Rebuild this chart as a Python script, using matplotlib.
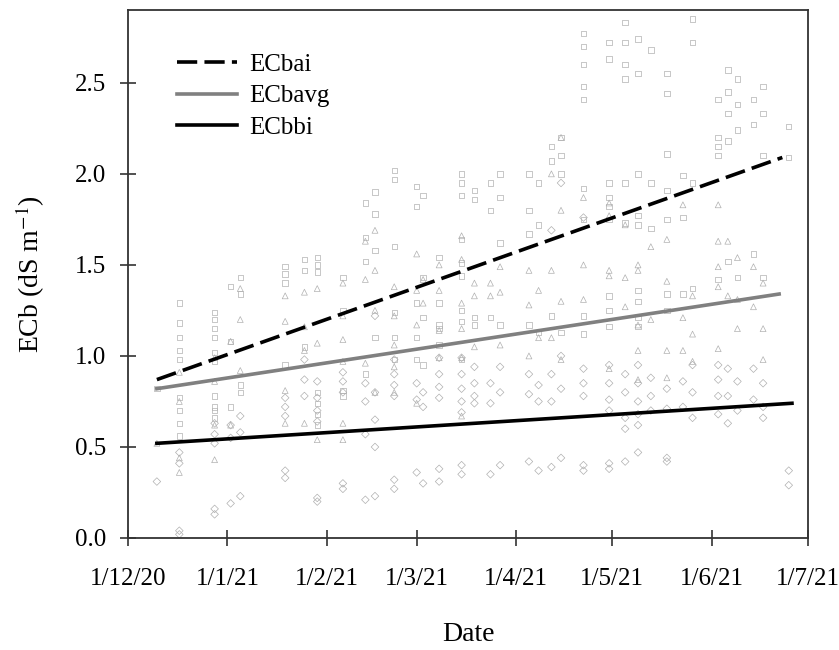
import numpy as np
import pandas as pd
import matplotlib
matplotlib.use("Agg")
import matplotlib.pyplot as plt

plt.rcParams['font.family'] = ['Liberation Serif', 'DejaVu Serif']
plt.rcParams['mathtext.fontset'] = 'stix'

# ---------------- data ----------------
sample_dates = ['2020-12-10', '2020-12-17', '2020-12-28', '2021-01-02', '2021-01-05',
                '2021-01-19', '2021-01-25', '2021-01-29', '2021-02-06', '2021-02-13',
                '2021-02-16', '2021-02-22', '2021-03-01', '2021-03-03', '2021-03-08',
                '2021-03-15', '2021-03-19', '2021-03-24', '2021-03-27', '2021-04-05',
                '2021-04-08', '2021-04-12', '2021-04-15', '2021-04-22', '2021-04-30',
                '2021-05-05', '2021-05-09', '2021-05-13', '2021-05-18', '2021-05-23',
                '2021-05-26', '2021-06-03', '2021-06-06', '2021-06-09', '2021-06-14',
                '2021-06-17', '2021-06-25']

ecbai_obs = [
    [0.82],
    [1.29, 1.18, 1.10, 1.03, 0.98, 0.77, 0.70, 0.63, 0.56],
    [1.24, 1.20, 1.15, 1.10, 1.02, 0.97, 0.78, 0.72, 0.70, 0.66],
    [1.38, 1.08, 0.72],
    [1.43, 1.34, 0.84, 0.80],
    [1.49, 1.45, 1.40, 0.95],
    [1.53, 1.47, 1.05],
    [1.54, 1.50, 1.46, 0.80, 0.74, 0.68, 0.62],
    [1.43, 1.25, 0.81, 0.78],
    [1.84, 1.65, 1.52, 0.90],
    [1.90, 1.78, 1.58, 1.10],
    [2.02, 1.97, 1.60, 1.24, 1.10, 0.98],
    [1.93, 1.82, 1.29, 1.10, 0.98],
    [1.88, 1.43, 1.21, 0.95],
    [1.54, 1.29, 1.17, 1.15, 1.06],
    [2.00, 1.95, 1.88, 1.64, 1.51, 1.44, 1.25, 1.19, 0.98],
    [1.91, 1.86, 1.21, 1.17],
    [1.95, 1.80, 1.21],
    [2.00, 1.87, 1.62, 1.17],
    [2.00, 1.80, 1.67, 1.17],
    [1.95, 1.72, 1.13],
    [2.15, 2.07, 1.22],
    [2.20, 2.10, 2.00, 1.13],
    [2.77, 2.70, 2.60, 2.48, 2.41, 1.92, 1.75, 1.22, 1.12],
    [2.72, 2.63, 1.95, 1.87, 1.82, 1.75, 1.33, 1.25, 1.16],
    [2.83, 2.72, 2.60, 2.52, 1.95, 1.73],
    [2.74, 2.55, 2.00, 1.77, 1.72, 1.36, 1.30, 1.21, 1.16],
    [2.68, 1.95, 1.70],
    [2.55, 2.44, 2.11, 1.91, 1.75, 1.34, 1.25],
    [1.99, 1.76, 1.34],
    [2.85, 2.72, 1.95, 1.37],
    [2.41, 2.20, 2.15, 2.10, 1.42],
    [2.57, 2.45, 2.33, 2.18, 1.52],
    [2.52, 2.38, 2.24, 1.43],
    [2.41, 2.27, 1.56],
    [2.48, 2.33, 2.10, 1.43],
    [2.26, 2.09],
]

ecbavg_obs = [
    [0.52],
    [0.91, 0.75, 0.44, 0.36],
    [0.99, 0.86, 0.62, 0.43],
    [1.08, 0.62],
    [1.37, 1.20, 0.92],
    [1.33, 1.19, 0.81, 0.63],
    [1.35, 1.16, 1.03, 0.63],
    [1.37, 1.07, 0.54],
    [1.40, 1.22, 1.09, 0.97, 0.63, 0.54],
    [1.63, 1.42, 0.96],
    [1.69, 1.47, 1.25, 0.80],
    [1.38, 1.22, 1.06, 0.94, 0.80],
    [1.56, 1.36, 1.17, 0.74],
    [1.42, 1.29],
    [1.50, 1.36, 1.14, 0.99],
    [1.66, 1.53, 1.29, 1.15, 0.99, 0.67],
    [1.40, 1.33, 1.05],
    [1.40, 1.33],
    [1.49, 1.35, 1.06],
    [1.47, 1.28, 1.00],
    [1.36, 1.10],
    [2.00, 1.47, 1.10],
    [2.20, 1.80, 1.30, 0.98],
    [1.87, 1.50, 1.31],
    [1.84, 1.77, 1.47, 1.44, 0.93],
    [1.72, 1.43, 1.27],
    [1.50, 1.47, 1.17, 1.03, 0.87],
    [1.60, 1.20],
    [1.64, 1.41, 1.03, 0.88],
    [1.83, 1.21, 1.03],
    [1.33, 1.12, 0.97],
    [1.83, 1.63, 1.49, 1.38, 1.04],
    [1.63, 1.33],
    [1.54, 1.31, 1.15],
    [1.49, 1.27],
    [1.40, 1.15, 0.98],
    [],
]

ecbbi_obs = [
    [0.31],
    [0.47, 0.41, 0.04, 0.02],
    [0.63, 0.57, 0.52, 0.16, 0.13],
    [0.62, 0.55, 0.19],
    [0.67, 0.58, 0.23],
    [0.77, 0.72, 0.67, 0.37, 0.33],
    [0.98, 0.87, 0.78],
    [0.86, 0.77, 0.70, 0.64, 0.22, 0.20],
    [0.91, 0.86, 0.80, 0.30, 0.27],
    [0.85, 0.75, 0.57, 0.21],
    [1.22, 0.80, 0.65, 0.50, 0.23],
    [0.98, 0.90, 0.84, 0.78, 0.32, 0.27],
    [0.85, 0.76, 0.36],
    [0.80, 0.72, 0.30],
    [0.99, 0.90, 0.83, 0.77, 0.38, 0.31],
    [0.99, 0.90, 0.82, 0.75, 0.69, 0.40, 0.35],
    [0.94, 0.85, 0.78, 0.74],
    [0.85, 0.74, 0.35],
    [0.94, 0.80, 0.40],
    [0.90, 0.79, 0.42],
    [0.84, 0.75, 0.37],
    [1.69, 0.90, 0.75, 0.39],
    [1.95, 1.00, 0.82, 0.44],
    [1.76, 0.93, 0.85, 0.78, 0.40, 0.37],
    [0.95, 0.85, 0.76, 0.70, 0.41, 0.38],
    [0.90, 0.80, 0.66, 0.60, 0.42],
    [0.95, 0.85, 0.75, 0.68, 0.62, 0.47],
    [0.88, 0.78, 0.70],
    [0.82, 0.71, 0.44, 0.42],
    [0.86, 0.72],
    [0.95, 0.80, 0.66],
    [0.95, 0.87, 0.78, 0.68],
    [0.93, 0.78, 0.63],
    [0.86, 0.70],
    [0.93, 0.76],
    [0.85, 0.72, 0.66],
    [0.37, 0.29],
]

# fitted trend lines (start / end)
ecbai_fit_dates = ['2020-12-10', '2021-06-23']
ecbai_fit = [0.87, 2.09]
ecbavg_fit_dates = ['2020-12-10', '2021-06-22']
ecbavg_fit = [0.82, 1.34]
ecbbi_fit_dates = ['2020-12-10', '2021-06-26']
ecbbi_fit = [0.52, 0.74]

x_tick_dates = ['2020-12-01', '2021-01-01', '2021-02-01', '2021-03-01',
                '2021-04-01', '2021-05-01', '2021-06-01', '2021-07-01']
x_tick_labels = ['1/12/20', '1/1/21', '1/2/21', '1/3/21', '1/4/21', '1/5/21', '1/6/21', '1/7/21']
y_ticks = [0.0, 0.5, 1.0, 1.5, 2.0, 2.5]


def flatten(dates, obs):
    xs, ys = [], []
    for d, vals in zip(dates, obs):
        for v in vals:
            xs.append(pd.Timestamp(d))
            ys.append(v)
    return xs, ys


# ---------------- figure ----------------
fig = plt.figure(figsize=(8.39, 6.5), dpi=100)
ax = fig.add_axes([128 / 839, 1 - 538 / 650, 680 / 839, 528 / 650])

mcol = '#b0b0b0'
x, y = flatten(sample_dates, ecbai_obs)
ax.scatter(x, y, marker='s', s=15, facecolors='none', edgecolors=mcol, linewidths=0.5, zorder=2)
x, y = flatten(sample_dates, ecbavg_obs)
ax.scatter(x, y, marker='^', s=18, facecolors='none', edgecolors=mcol, linewidths=0.5, zorder=2)
x, y = flatten(sample_dates, ecbbi_obs)
ax.scatter(x, y, marker='D', s=15, facecolors='none', edgecolors=mcol, linewidths=0.5, zorder=2)

ax.plot(pd.to_datetime(ecbai_fit_dates), ecbai_fit, color='black', lw=2.6,
        dashes=(5.6, 2.0), label='ECbai', zorder=3)
ax.plot(pd.to_datetime(ecbavg_fit_dates), ecbavg_fit, color='#808080', lw=2.6,
        label='ECbavg', zorder=3)
ax.plot(pd.to_datetime(ecbbi_fit_dates), ecbbi_fit, color='black', lw=2.6,
        label='ECbbi', zorder=3)

ax.set_xlim(pd.Timestamp(x_tick_dates[0]), pd.Timestamp(x_tick_dates[-1]))
ax.set_ylim(0, 2.9)
ax.set_xticks(pd.to_datetime(x_tick_dates))
ax.set_xticklabels(x_tick_labels)
ax.set_yticks(y_ticks)
ax.set_yticklabels([f'{v:.1f}' for v in y_ticks])

for s in ax.spines.values():
    s.set_linewidth(1.3)
    s.set_color('#333333')
ax.tick_params(direction='inout', length=11, width=1.2, color='#333333', labelsize=18)
ax.tick_params(axis='x', pad=16)
ax.tick_params(axis='y', pad=10)

ax.set_xlabel('Date', fontsize=20, labelpad=23)
ax.set_ylabel('ECb (dS m$^{-1}$)', fontsize=20, labelpad=20)

leg = ax.legend(loc='upper left', bbox_to_anchor=(0.072, 0.918), frameon=False,
                fontsize=18, handlelength=2.4, handletextpad=0.5,
                labelspacing=0.36, borderpad=0, borderaxespad=0)

fig.savefig('out.png', dpi=100)
